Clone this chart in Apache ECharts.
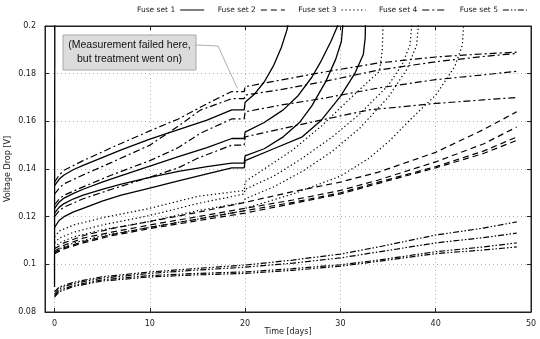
<!DOCTYPE html>
<html>
<head>
<meta charset="utf-8">
<script src="https://cdn.jsdelivr.net/npm/echarts@6/dist/echarts.min.js"></script>
<style>
  html, body { margin: 0; padding: 0; background: #ffffff; }
  #chart { width: 540px; height: 339px; }
</style>
</head>
<body>
<div id="chart"></div>
<script>
// Axis ticks and titles
const xTicks = [0, 10, 20, 30, 40, 50];
const xTitle = 'Time [days]';
const yTitle = 'Voltage Drop [V]';
const setNames = ['Fuse set 1', 'Fuse set 2', 'Fuse set 3', 'Fuse set 4', 'Fuse set 5'];

// Fuse set 1 (solid) – [day, voltage drop V]
const fuse1a = [[0,0.133],[0.5,0.1358],[1,0.1375],[2,0.1398],[3,0.1415],[5,0.1448],[7,0.148],[10,0.1525],[13,0.1565],[16,0.1605],[18.6,0.1648],[19.9,0.1648],[20,0.168],[21,0.1715],[22,0.1765],[23,0.1835],[23.8,0.191],[24.4,0.1985],[24.7,0.205]];
const fuse1b = [[0,0.1235],[0.5,0.1262],[1,0.1278],[2,0.1298],[3,0.1315],[5,0.1345],[7,0.1372],[10,0.1412],[13,0.1452],[16,0.149],[18.6,0.1528],[19.9,0.1528],[20,0.1555],[22,0.1595],[24,0.1648],[25.5,0.1705],[27,0.1785],[28,0.1855],[29,0.1935],[29.7,0.2],[30,0.205]];
const fuse1c = [[0,0.1215],[0.5,0.124],[1,0.1255],[2,0.1275],[3,0.129],[5,0.1315],[7,0.1337],[10,0.1365],[13,0.139],[16,0.141],[18.6,0.1425],[19.9,0.1425],[20,0.1455],[22,0.1485],[24,0.1535],[25.7,0.1595],[27,0.1665],[28.5,0.177],[29.5,0.186],[30.1,0.1935],[30.25,0.2],[30.3,0.205]];
const fuse1d = [[0,0.1155],[0.5,0.1185],[1,0.12],[2,0.122],[3,0.1235],[5,0.1265],[7,0.129],[10,0.132],[13,0.135],[16,0.138],[18.6,0.1405],[19.9,0.1405],[20,0.1435],[23,0.1485],[26,0.1535],[28,0.1605],[30,0.1705],[31.5,0.18],[32.4,0.188],[32.6,0.195],[32.65,0.205]];
const fuse1e = [[0,0.0905],[0.03,0.205]];

// Fuse set 2 (dashed)
const fuse2a = [[0,0.1065],[1,0.109],[3,0.112],[6,0.115],[10,0.118],[15,0.1218],[20,0.126],[25,0.1305],[30,0.1345],[34,0.1387],[40,0.147],[45,0.1565],[48.5,0.164]];
const fuse2b = [[0,0.1055],[1,0.108],[3,0.111],[6,0.1135],[10,0.1165],[15,0.12],[20,0.1235],[25,0.127],[30,0.131],[34,0.1354],[40,0.143],[45,0.1505],[48.5,0.1576]];
const fuse2c = [[0,0.105],[1,0.107],[3,0.1095],[6,0.1125],[10,0.1155],[15,0.119],[20,0.1225],[25,0.126],[30,0.13],[34,0.1345],[40,0.141],[45,0.1475],[48.5,0.1534]];
const fuse2d = [[0,0.1045],[1,0.1065],[3,0.109],[6,0.112],[10,0.115],[15,0.1183],[20,0.1215],[25,0.1255],[30,0.1295],[34,0.134],[40,0.1405],[45,0.1465],[48.5,0.152]];

// Fuse set 3 (dotted)
const fuse3a = [[0,0.1115],[0.5,0.114],[2,0.1165],[5,0.1195],[10,0.1235],[15,0.1285],[19.9,0.131],[20,0.1347],[22,0.14],[25,0.148],[28,0.158],[31,0.1695],[33,0.177],[34.1,0.181],[34.4,0.19],[34.5,0.205]];
const fuse3b = [[0,0.109],[0.5,0.111],[2,0.1135],[5,0.1165],[10,0.1205],[15,0.1255],[19.9,0.1295],[20,0.1315],[23,0.137],[26,0.1445],[29,0.153],[32,0.163],[35,0.175],[36.5,0.184],[37.3,0.192],[37.6,0.205]];
const fuse3c = [[0,0.107],[0.5,0.109],[2,0.1115],[5,0.1145],[10,0.118],[15,0.1225],[19.9,0.126],[20,0.1275],[23,0.1325],[26,0.139],[29,0.147],[32,0.157],[35,0.17],[37,0.182],[38,0.192],[38.3,0.205]];
const fuse3d = [[0,0.1045],[0.5,0.1065],[2,0.109],[5,0.112],[10,0.1155],[15,0.119],[19.9,0.1225],[20,0.1235],[25,0.1295],[30,0.137],[33,0.1445],[35.2,0.152],[37.3,0.1606],[40,0.171],[42,0.183],[42.8,0.192],[43,0.205]];

// Fuse set 4 (dash-dot)
const fuse4a = [[0,0.1345],[0.5,0.1375],[1,0.1395],[3,0.1435],[6,0.149],[10,0.156],[13,0.161],[16.3,0.168],[18.6,0.1725],[19.9,0.1725],[20,0.1745],[24,0.1775],[28,0.1805],[34,0.1845],[40,0.187],[45,0.1883],[48.5,0.189]];
const fuse4b = [[0,0.1295],[0.5,0.132],[1,0.1338],[3,0.1375],[6,0.1428],[10,0.15],[13,0.158],[15.3,0.1647],[18.6,0.1695],[19.9,0.1695],[20,0.171],[24,0.1735],[28,0.1765],[34,0.1815],[40,0.185],[45,0.1872],[48.5,0.1885]];
const fuse4c = [[0,0.125],[0.5,0.1275],[1,0.129],[3,0.1325],[6,0.1375],[10,0.1435],[13,0.149],[15.3,0.155],[18.6,0.161],[19.9,0.161],[20,0.164],[24,0.167],[28,0.1695],[34,0.174],[40,0.1775],[45,0.1795],[48.5,0.181]];
const fuse4d = [[0,0.12],[0.5,0.1225],[1,0.124],[3,0.1275],[6,0.1315],[10,0.1366],[13,0.1405],[15,0.1445],[18.6,0.15],[19.9,0.15],[20,0.1535],[24,0.157],[27,0.1597],[33,0.1648],[40,0.1675],[45,0.169],[48.5,0.17]];

// Fuse set 5 (dash-dot-dot)
const fuse5a = [[0,0.0885],[0.5,0.0905],[2,0.0925],[5,0.0948],[10,0.0968],[15,0.0983],[20,0.0997],[25,0.1018],[30,0.1043],[34,0.1073],[40,0.1123],[45,0.1152],[48.5,0.1178]];
const fuse5b = [[0,0.0875],[0.5,0.0898],[2,0.092],[5,0.0942],[10,0.0962],[15,0.0976],[20,0.0988],[25,0.1005],[30,0.1027],[34,0.1052],[40,0.109],[45,0.1112],[48.5,0.1131]];
const fuse5c = [[0,0.0868],[0.5,0.089],[2,0.0912],[5,0.0935],[10,0.0953],[15,0.0962],[20,0.0968],[25,0.0982],[30,0.0998],[34,0.1018],[40,0.1053],[45,0.1073],[48.5,0.109]];
const fuse5d = [[0,0.0862],[0.5,0.0885],[2,0.0907],[5,0.093],[10,0.0947],[15,0.0956],[20,0.0962],[25,0.0975],[30,0.0992],[34,0.1013],[40,0.1045],[45,0.106],[48.5,0.1073]];

const groups = [
  { name: setNames[0], dash: 'solid',                 width: 1.3, lines: [fuse1a, fuse1b, fuse1c, fuse1d, fuse1e] },
  { name: setNames[1], dash: [6, 4],                  width: 1.2, lines: [fuse2a, fuse2b, fuse2c, fuse2d] },
  { name: setNames[2], dash: [1.3, 2.6],              width: 1.2, lines: [fuse3a, fuse3b, fuse3c, fuse3d] },
  { name: setNames[3], dash: [7, 3, 2, 3],            width: 1.2, lines: [fuse4a, fuse4b, fuse4c, fuse4d] },
  { name: setNames[4], dash: [6, 2, 1.5, 2, 1.5, 2],  width: 1.2, lines: [fuse5a, fuse5b, fuse5c, fuse5d] }
];

const series = [];
groups.forEach(g => {
  g.lines.forEach(d => {
    series.push({
      name: g.name,
      type: 'line',
      data: d,
      symbol: 'none',
      clip: true,
      animation: false,
      lineStyle: { color: '#000', width: g.width, type: g.dash },
      itemStyle: { color: '#000' },
      emphasis: { disabled: true }
    });
  });
});

const FONT = 'DejaVu Sans';
const gridLine = { show: true, lineStyle: { color: '#b0b0b0', width: 1, type: [1, 3] } };
const frame = { show: true, onZero: false, lineStyle: { color: '#222', width: 1 } };

const chart = echarts.init(document.getElementById('chart'), null, { renderer: 'canvas' });
chart.setOption({
  animation: false,
  backgroundColor: '#fff',
  textStyle: { fontFamily: FONT },
  legend: {
    data: setNames,
    top: 1,
    left: 132,
    width: 406,
    align: 'right',
    itemGap: 13,
    itemWidth: 24,
    itemHeight: 8,
    selectedMode: false,
    // line-only key: hide the marker that line series draw on their legend sample
    itemStyle: { color: 'rgba(0,0,0,0)', borderWidth: 0, opacity: 0 },
    lineStyle: { width: 1 },
    textStyle: { fontFamily: FONT, fontSize: 7.5, color: '#222' }
  },
  grid: {
    left: 45, right: 9, top: 26, bottom: 27,
    show: true, borderColor: '#222', borderWidth: 1,
    containLabel: false, outerBoundsMode: 'none'
  },
  xAxis: [
    {
      type: 'value', min: -1, max: 50, position: 'bottom',
      axisLine: frame,
      axisTick: { show: true, inside: true, length: 4, customValues: xTicks, lineStyle: { color: '#222' } },
      axisLabel: { customValues: xTicks, fontFamily: FONT, fontSize: 8, color: '#222', margin: 8 },
      splitLine: gridLine
    },
    {
      type: 'value', min: -1, max: 50, position: 'top',
      axisLine: frame,
      axisTick: { show: true, inside: true, length: 4, customValues: xTicks, lineStyle: { color: '#222' } },
      axisLabel: { show: false },
      splitLine: { show: false }
    }
  ],
  yAxis: [
    {
      type: 'value', min: 0.08, max: 0.2, interval: 0.02, position: 'left',
      axisLine: frame,
      axisTick: { show: true, inside: true, length: 4, lineStyle: { color: '#222' } },
      axisLabel: { fontFamily: FONT, fontSize: 8, color: '#222', margin: 9 },
      splitLine: gridLine
    },
    {
      type: 'value', min: 0.08, max: 0.2, interval: 0.02, position: 'right',
      axisLine: frame,
      axisTick: { show: true, inside: true, length: 4, lineStyle: { color: '#222' } },
      axisLabel: { show: false },
      splitLine: { show: false }
    }
  ],
  series: series
});

// Axis titles, centred on the plotting area
const gridRect = chart.getModel().getComponent('grid').coordinateSystem.getRect();
const titleFont = '8px "DejaVu Sans"';

// Annotation: callout box with a leader line to the day-20 gap
const tip = chart.convertToPixel({ xAxisIndex: 0, yAxisIndex: 0 }, [19.2, 0.1738]);
const boxL = 63, boxT = 35, boxW = 133, boxH = 35;
chart.setOption({
  graphic: [
    {
      type: 'text', silent: true,
      x: gridRect.x + gridRect.width / 2, y: 332,
      style: { text: xTitle, align: 'center', verticalAlign: 'middle', font: titleFont, fill: '#222' }
    },
    {
      type: 'text', silent: true,
      x: 8, y: gridRect.y + gridRect.height / 2, rotation: Math.PI / 2,
      style: { text: yTitle, align: 'center', verticalAlign: 'middle', font: titleFont, fill: '#222' }
    },
    {
      type: 'polyline', silent: true, z: 100,
      shape: { points: [[boxL + boxW, boxT + 10], [boxL + boxW + 22, boxT + 11], tip] },
      style: { stroke: '#9a9a9a', lineWidth: 0.8, fill: null }
    },
    {
      type: 'rect', silent: true, z: 100,
      shape: { x: boxL, y: boxT, width: boxW, height: boxH },
      style: { fill: '#dcdcdc', stroke: '#a8a8a8', lineWidth: 1 }
    },
    {
      type: 'text', silent: true, z: 101,
      style: {
        x: boxL + boxW / 2, y: boxT + boxH / 2,
        text: '(Measurement failed here,\nbut treatment went on)',
        align: 'center', verticalAlign: 'middle',
        font: '10.5px "Liberation Sans"', lineHeight: 14, fill: '#111'
      }
    }
  ]
});
</script>
</body>
</html>
